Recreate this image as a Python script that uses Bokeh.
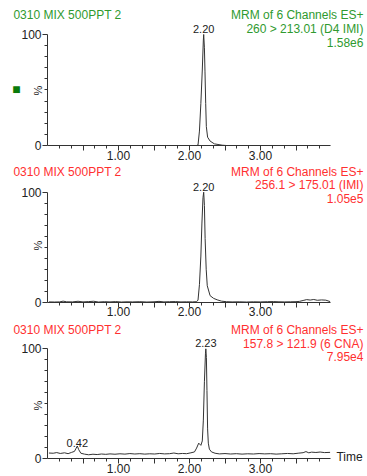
from bokeh.plotting import figure
from bokeh.models import Range1d, FixedTicker, Label
from bokeh.layouts import column
from bokeh.embed import file_html
from bokeh.resources import INLINE

# ---- data ----
titles = ["0310 MIX 500PPT 2", "0310 MIX 500PPT 2", "0310 MIX 500PPT 2"]
header = ["MRM of 6 Channels ES+", "MRM of 6 Channels ES+", "MRM of 6 Channels ES+"]
transitions = ["260 > 213.01 (D4 IMI)", "256.1 > 175.01 (IMI)", "157.8 > 121.9 (6 CNA)"]
intensities = ["1.58e6", "1.05e5", "7.95e4"]

t1 = [0.02, 2.10, 2.12, 2.14, 2.16, 2.18, 2.195, 2.20, 2.21, 2.218, 2.228, 2.237,
      2.255, 2.29, 2.35, 2.46, 2.52, 3.98]
i1 = [0.0, 0.0, 0.5, 13, 38, 68, 95, 100, 88, 67, 38, 17,
      7.5, 4.0, 1.5, 0.3, 0.0, 0.0]

t2 = [0.02, 0.10, 0.17, 0.22, 0.27, 0.35, 0.43, 0.50, 0.58, 0.65, 0.72, 0.80, 0.88,
      0.96, 1.04, 1.12, 1.20, 1.30, 1.40, 1.50, 1.57, 1.64, 1.72, 1.80, 1.88, 1.96,
      2.04, 2.10, 2.12, 2.14, 2.16, 2.175, 2.19, 2.20, 2.21, 2.22, 2.235, 2.25, 2.29,
      2.34, 2.39, 2.45, 2.52, 2.60, 2.70, 2.80, 2.90, 3.00, 3.10, 3.18, 3.26, 3.34,
      3.42, 3.50, 3.55, 3.60, 3.65, 3.70, 3.75, 3.80, 3.86, 3.92, 3.98]
i2 = [0.3, 0.2, 0.3, 1.0, 0.4, 0.3, 0.9, 0.3, 0.6, 0.9, 0.2, 0.5, 0.3,
      0.6, 0.2, 0.4, 0.3, 0.5, 0.2, 0.4, 0.8, 0.3, 0.5, 0.6, 0.3, 0.4,
      0.3, 0.5, 2.0, 16, 42, 72, 95, 100, 88, 58, 30, 15, 6.0,
      3.5, 2.2, 1.0, 0.5, 0.3, 0.4, 0.2, 0.4, 0.3, 0.5, 0.6, 0.4, 0.3,
      0.4, 0.5, 0.8, 1.6, 2.4, 2.0, 2.5, 1.8, 2.1, 1.9, 0.6]

t3 = [0.02, 0.08, 0.13, 0.18, 0.24, 0.29, 0.34, 0.38, 0.40, 0.42, 0.44, 0.47, 0.52,
      0.58, 0.64, 0.70, 0.76, 0.82, 0.88, 0.95, 1.02, 1.09, 1.16, 1.23, 1.30, 1.37,
      1.44, 1.51, 1.58, 1.65, 1.72, 1.78, 1.84, 1.90, 1.96, 2.02, 2.07, 2.10, 2.13,
      2.16, 2.18, 2.195, 2.21, 2.225, 2.23, 2.238, 2.246, 2.255, 2.265, 2.28, 2.31,
      2.36, 2.42, 2.50, 2.58, 2.66, 2.74, 2.82, 2.90, 2.98, 3.06, 3.14, 3.22, 3.30,
      3.38, 3.46, 3.54, 3.60, 3.64, 3.68, 3.72, 3.78, 3.84, 3.90, 3.98]
i3 = [5.0, 4.8, 5.4, 4.6, 5.2, 4.4, 5.6, 6.5, 9.0, 11.4, 8.0, 4.8, 4.0,
      3.4, 3.9, 3.6, 4.1, 3.8, 4.2, 3.9, 4.3, 4.0, 4.5, 4.1, 4.4, 4.0,
      4.3, 4.1, 4.6, 4.2, 4.4, 5.0, 4.3, 4.6, 4.4, 5.2, 6.0, 9.5, 14.0,
      12.0, 16.0, 35, 70, 96, 100, 92, 62, 27, 14, 8.5, 6.0,
      4.8, 4.2, 4.5, 4.1, 4.4, 4.0, 4.3, 4.1, 4.5, 4.2, 4.4, 4.0, 4.3,
      4.6, 4.3, 4.9, 5.3, 6.3, 5.2, 5.8, 5.5, 5.9, 5.4, 5.6]

peak_t = [[2.20], [2.20], [2.23, 0.42]]
peak_lbl = [["2.20"], ["2.20"], ["2.23", "0.42"]]

x_major = [0.5, 1.0, 1.5, 2.0, 2.5, 3.0, 3.5]
x_minor = [k / 6 for k in range(1, 24)]
x_labels = {0.5: "", 1.0: "1.00", 1.5: "", 2.0: "2.00", 2.5: "", 3.0: "3.00", 3.5: ""}

FONT = "Liberation Sans"
GREEN = "#2f9a2f"
RED = "#ff3030"

panels = [
    dict(t=t1, i=i1, h=165, y=(-18.0, 130.6), ty=[117.1, 104.5, 92.8], py=[104.5], pcty=49.5, col=GREEN),
    dict(t=t2, i=i2, h=156, y=(-17.5, 124.3), ty=[118.2, 106.7, 94.5], py=[105.2], pcty=51.5, col=RED),
    dict(t=t3, i=i3, h=155, y=(-16.4, 124.9), ty=[116.7, 104.6, 93.3], py=[105.1, 14.0], pcty=48.3, col=RED),
]

figs = []
for k, pn in enumerate(panels):
    p = figure(width=367, height=pn["h"], output_backend="svg", toolbar_location=None,
               x_range=Range1d(-0.662, 4.507), y_range=Range1d(*pn["y"]),
               min_border=0)
    p.outline_line_color = None
    p.xgrid.visible = False
    p.ygrid.visible = False
    p.background_fill_color = "white"
    p.border_fill_color = "white"

    p.line(pn["t"], pn["i"], line_color="#333333", line_width=1)

    xa = p.xaxis[0]
    xa.fixed_location = 0
    xa.bounds = (0, 3.99)
    xa.ticker = FixedTicker(ticks=x_major, minor_ticks=x_minor)
    xa.major_label_overrides = x_labels
    xa.major_tick_out = 5
    xa.major_tick_in = 0
    xa.minor_tick_out = 3
    xa.minor_tick_in = 0
    xa.major_label_standoff = 0
    xa.major_label_text_font = FONT
    xa.major_label_text_font_size = "12px"
    xa.major_label_text_color = "#222222"
    xa.axis_line_color = "#333333"
    xa.major_tick_line_color = "#333333"
    xa.minor_tick_line_color = "#333333"

    ya = p.yaxis[0]
    ya.fixed_location = 0
    ya.bounds = (0, 100)
    ya.ticker = FixedTicker(ticks=[0, 100], minor_ticks=list(range(10, 100, 10)))
    ya.major_tick_out = 5
    ya.major_tick_in = 0
    ya.minor_tick_out = 3
    ya.minor_tick_in = 0
    ya.major_label_standoff = 1
    ya.major_label_text_font = FONT
    ya.major_label_text_font_size = "12px"
    ya.major_label_text_color = "#222222"
    ya.axis_line_color = "#333333"
    ya.major_tick_line_color = "#333333"
    ya.minor_tick_line_color = "#333333"

    col = pn["col"]
    p.add_layout(Label(x=-0.48, y=pn["ty"][0], text=titles[k], text_font=FONT,
                       text_font_size="12px", text_color=col, text_baseline="middle",
                       text_align="left"))
    for txt, yy in zip([header[k], transitions[k], intensities[k]], pn["ty"]):
        p.add_layout(Label(x=4.45, y=yy, text=txt, text_font=FONT, text_font_size="12px",
                           text_color=col, text_baseline="middle", text_align="right"))
    for tt, lb, yy in zip(peak_t[k], peak_lbl[k], pn["py"]):
        p.add_layout(Label(x=tt, y=yy, text=lb, text_font=FONT, text_font_size="11px",
                           text_color="#222222", text_baseline="middle", text_align="center"))
    p.add_layout(Label(x=-0.127, y=pn["pcty"], text="%", text_font=FONT, text_font_size="11px",
                       text_color="#222222", text_baseline="middle", text_align="center",
                       angle=1.5708))
    if k == 0:
        p.add_layout(Label(x=-0.437, y=50.5, text="\u25a0", text_font=FONT,
                           text_font_size="14px", text_color="#0a7a0a",
                           text_baseline="middle", text_align="center"))
    if k == 2:
        p.add_layout(Label(x=4.07, y=1.0, text="Time", text_font=FONT, text_font_size="12px",
                           text_color="#222222", text_baseline="middle", text_align="left"))
    figs.append(p)

layout = column(*figs, spacing=0)
open("out.html", "w").write(file_html(layout, INLINE))
